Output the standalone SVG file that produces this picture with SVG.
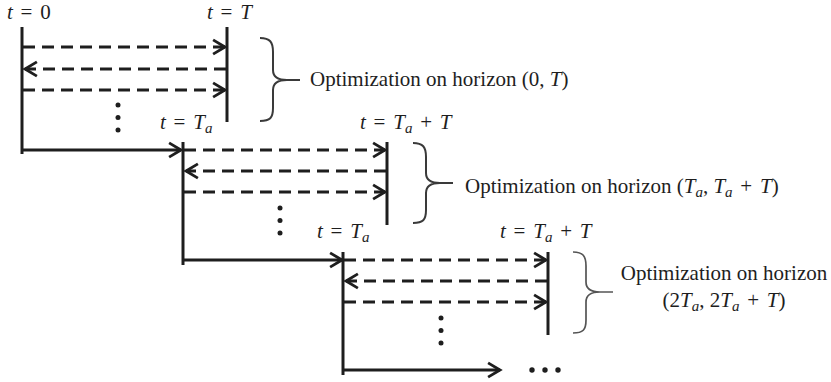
<svg xmlns="http://www.w3.org/2000/svg" width="831" height="382" viewBox="0 0 831 382">
<style>
.ln{stroke:#1e1e1e;stroke-width:3;fill:none}
.dash{stroke:#1e1e1e;stroke-width:3;fill:none;stroke-dasharray:12 7}
.brace{stroke:#3a3a3a;stroke-width:2;fill:none}
.dot{fill:#1e1e1e}
text{font-family:"Liberation Serif","Times New Roman",serif;font-size:21px;fill:#1e1e1e}
.m{word-spacing:2.5px}
.i{font-style:italic}
.sub{font-style:italic;font-size:15px}
</style>
<defs>
<marker id="ah" markerUnits="userSpaceOnUse" markerWidth="18" markerHeight="20" viewBox="-3 -3 18 21" refX="12.5" refY="7.5" orient="auto">
<path d="M0,0 L12.5,7.5 L0,15" fill="none" stroke="#1e1e1e" stroke-width="3" stroke-linejoin="miter"/>
</marker>
</defs>

<g id="block1">
<line class="ln" x1="22" y1="27" x2="22" y2="154"/>
<line class="ln" x1="227" y1="27" x2="227" y2="122"/>
<circle class="dot" cx="118" cy="105" r="2.5"/>
<circle class="dot" cx="118" cy="117.5" r="2.5"/>
<circle class="dot" cx="118" cy="130" r="2.5"/>
<text class="m" x="7" y="19"><tspan class="i">t</tspan> = 0</text>
<text class="m" x="207" y="19"><tspan class="i">t</tspan> = <tspan class="i">T</tspan></text>
</g>

<g id="block2">
<line class="ln" x1="183" y1="142" x2="183" y2="265"/>
<line class="ln" x1="387" y1="142" x2="387" y2="225"/>
<circle class="dot" cx="280" cy="208" r="2.5"/>
<circle class="dot" cx="280" cy="220.5" r="2.5"/>
<circle class="dot" cx="280" cy="233" r="2.5"/>
<text class="m" x="160" y="129"><tspan class="i">t</tspan> = <tspan class="i">T</tspan><tspan class="sub" dy="4">a</tspan></text>
<text class="m" x="360" y="129"><tspan class="i">t</tspan> = <tspan class="i">T</tspan><tspan class="sub" dy="4">a</tspan><tspan dy="-4"> + </tspan><tspan class="i">T</tspan></text>
</g>

<g id="block3">
<line class="ln" x1="343" y1="252" x2="343" y2="375"/>
<line class="ln" x1="548" y1="252" x2="548" y2="335"/>
<circle class="dot" cx="441" cy="318" r="2.5"/>
<circle class="dot" cx="441" cy="330.5" r="2.5"/>
<circle class="dot" cx="441" cy="343" r="2.5"/>
<text class="m" x="317" y="238"><tspan class="i">t</tspan> = <tspan class="i">T</tspan><tspan class="sub" dy="4">a</tspan></text>
<text class="m" x="500" y="238"><tspan class="i">t</tspan> = <tspan class="i">T</tspan><tspan class="sub" dy="4">a</tspan><tspan dy="-4"> + </tspan><tspan class="i">T</tspan></text>
<circle class="dot" cx="532" cy="370" r="2.7"/>
<circle class="dot" cx="545" cy="370" r="2.7"/>
<circle class="dot" cx="558" cy="370" r="2.7"/>
</g>

<g id="brace1">
<path class="brace" d="M260,38 C270,38 273,42 273,52 L273,70 C273,77 278,80 287,80 L300,80 M287,80 C278,80 273,83 273,90 L273,108 C273,118 270,121 260,121"/>
<text x="310" y="86">Optimization on horizon  (0, <tspan class="i">T</tspan>)</text>
</g>

<g id="brace2">
<path class="brace" d="M413,143 C423,143 426,147 426,157 L426,173 C426,180 431,183 440,183 L453,183 M440,183 C431,183 426,186 426,193 L426,210 C426,220 423,223 413,223"/>
<text x="465" y="193">Optimization on horizon (<tspan class="i">T</tspan><tspan class="sub" dy="4">a</tspan><tspan dy="-4">, </tspan><tspan class="i">T</tspan><tspan class="sub" dy="4">a</tspan><tspan dy="-4" class="m"> + </tspan><tspan class="i">T</tspan>)</text>
</g>

<g id="brace3">
<path class="brace" style="stroke:#555;stroke-width:1.7" d="M573,252 C583,252 586,256 586,266 L586,282 C586,289 591,292 600,292 L613,292 M600,292 C591,292 586,295 586,302 L586,320 C586,330 583,333 573,333"/>
<text x="724" y="280" text-anchor="middle">Optimization on horizon</text>
<text x="724" y="307" text-anchor="middle">(2<tspan class="i">T</tspan><tspan class="sub" dy="4">a</tspan><tspan dy="-4">, 2</tspan><tspan class="i">T</tspan><tspan class="sub" dy="4">a</tspan><tspan dy="-4" class="m"> + </tspan><tspan class="i">T</tspan>)</text>
</g>

<g id="connectors">
<line class="dash" x1="23" y1="47" x2="225" y2="47" marker-end="url(#ah)"/>
<line class="dash" x1="226" y1="69" x2="25" y2="69" marker-end="url(#ah)"/>
<line class="dash" x1="23" y1="90" x2="225" y2="90" marker-end="url(#ah)"/>
<line class="ln" x1="22" y1="150" x2="181" y2="150" marker-end="url(#ah)"/>

<line class="dash" x1="184" y1="150" x2="385" y2="150" marker-end="url(#ah)"/>
<line class="dash" x1="386" y1="171" x2="186" y2="171" marker-end="url(#ah)"/>
<line class="dash" x1="184" y1="192" x2="385" y2="192" marker-end="url(#ah)"/>
<line class="ln" x1="183" y1="260" x2="342" y2="260" marker-end="url(#ah)"/>

<line class="dash" x1="344" y1="260" x2="546" y2="260" marker-end="url(#ah)"/>
<line class="dash" x1="547" y1="281" x2="346" y2="281" marker-end="url(#ah)"/>
<line class="dash" x1="344" y1="302" x2="546" y2="302" marker-end="url(#ah)"/>
<line class="ln" x1="343" y1="370" x2="500" y2="370" marker-end="url(#ah)"/>
</g>
</svg>
